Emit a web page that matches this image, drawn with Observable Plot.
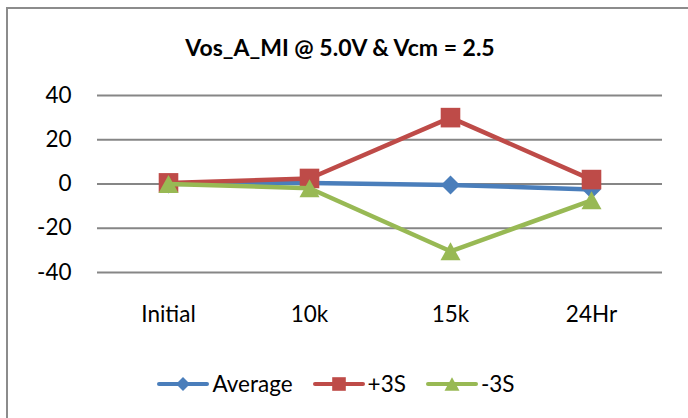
<!DOCTYPE html>
<html><head><meta charset="utf-8">
<script src="https://cdn.jsdelivr.net/npm/d3@7"></script>
<script src="https://cdn.jsdelivr.net/npm/@observablehq/plot@0.6"></script>
<style>
html,body{margin:0;padding:0;background:#fff;overflow:hidden;}
#wrap{position:relative;width:688px;height:418px;overflow:hidden;font-family:Lato,"Open Sans",sans-serif;color:#000;background:#fff;}
#chart{position:absolute;left:0;top:0;}
#frame{position:absolute;left:6px;top:7px;width:740px;height:460px;border:2.5px solid #8c8c8c;box-sizing:border-box;}
#title{position:absolute;left:0;width:680px;top:33px;text-align:center;font-weight:bold;font-size:23px;line-height:28px;}
#legend{position:absolute;top:370px;left:0;width:672px;display:flex;justify-content:center;align-items:center;font-size:22.5px;line-height:28px;}
#legend .item{display:flex;align-items:center;margin:0 10px;}
#legend svg{margin-right:3px;}
</style></head><body>
<div id="wrap"><div id="chart"></div><div id="title"></div><div id="legend"></div><div id="frame"></div></div>
<script>
const categories = ["Initial", "10k", "15k", "24Hr"];
const seriesNames = ["Average", "+3S", "-3S"];
const average = [0, 0.5, -0.4, -2.5];
const plus3S = [0.5, 2.5, 30, 2];
const minus3S = [0, -1.9, -30.4, -7.4];
const yTicks = [-40, -20, 0, 20, 40];
const titleText = "Vos_A_MI @ 5.0V & Vcm = 2.5";

const colors = ["#4a7ebb", "#be4b48", "#98b954"];
const diamond = {draw(c, size){const r=Math.sqrt(size/Math.PI);c.moveTo(0,-r);c.lineTo(r,0);c.lineTo(0,r);c.lineTo(-r,0);c.closePath();}};
const square = {draw(c, size){const r=Math.sqrt(size/Math.PI);c.rect(-r,-r,2*r,2*r);}};
const triangle = {draw(c, size){const r=Math.sqrt(size/Math.PI);c.moveTo(0,-0.9*r);c.lineTo(r,0.9*r);c.lineTo(-r,0.9*r);c.closePath();}};
const symbols = [diamond, square, triangle];
const markerR = [9.5, 9.8, 10];
const legendR = [7, 6.8, 7.5];

const valuesBySeries = [average, plus3S, minus3S];
const series = seriesNames.map((name, s) => categories.map((cat, i) => ({series: name, cat, value: valuesBySeries[s][i]})));

document.getElementById("title").textContent = titleText;

const marks = [
  Plot.gridY(yTicks, {stroke: "#868686", strokeOpacity: 1, strokeWidth: 2}),
  Plot.axisY(yTicks, {tickSize: 0, tickPadding: 26, fontSize: 22.5, label: null, tickFormat: d => String(d)}),
  Plot.axisX({tickSize: 0, tickPadding: 34, fontSize: 22.5, label: null})
];
series.forEach((data, s) => {
  marks.push(Plot.line(data, {x: "cat", y: "value", stroke: colors[s], strokeWidth: 4.5, strokeLinejoin: "round", strokeLinecap: "round"}));
  marks.push(Plot.dot(data, {x: "cat", y: "value", symbol: () => symbols[s], r: markerR[s], fill: colors[s], stroke: "none"}));
});

const chart = Plot.plot({
  width: 688, height: 418,
  marginLeft: 97, marginRight: 26, marginTop: 95, marginBottom: 146,
  x: {type: "point", domain: categories, padding: 0.5},
  y: {domain: [-40, 40]},
  symbol: {type: "identity"},
  style: {fontFamily: "Lato, 'Open Sans', sans-serif", fontSize: "22.5px", color: "#000", background: "transparent", overflow: "visible"},
  marks
});
document.getElementById("chart").append(chart);

const legend = document.getElementById("legend");
seriesNames.forEach((name, s) => {
  const item = document.createElement("div");
  item.className = "item";
  const svg = d3.create("svg").attr("width", 52).attr("height", 22);
  svg.append("line").attr("x1", 2).attr("x2", 50).attr("y1", 11).attr("y2", 11)
    .attr("stroke", colors[s]).attr("stroke-width", 4).attr("stroke-linecap", "round");
  const path = d3.path();
  symbols[s].draw(path, Math.PI * legendR[s] * legendR[s]);
  svg.append("path").attr("d", path.toString()).attr("transform", "translate(26,11)").attr("fill", colors[s]);
  item.append(svg.node());
  const label = document.createElement("span");
  label.textContent = name;
  item.append(label);
  legend.append(item);
});
</script>
</body></html>
